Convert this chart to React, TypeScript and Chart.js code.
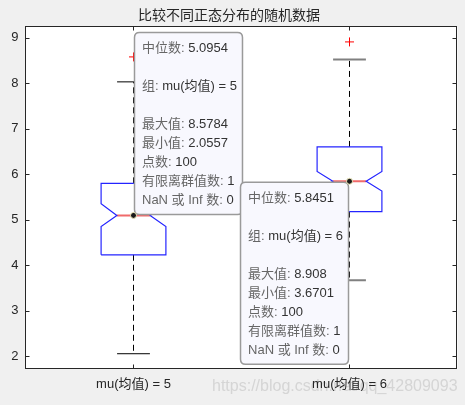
import React, { useEffect, useRef } from 'react';
import { Chart, registerables } from 'chart.js';

Chart.register(...registerables);

const chartTitle = '比较不同正态分布的随机数据';
const groups = ['mu(均值) = 5', 'mu(均值) = 6'];
const medians = [5.0954, 5.8451];
const q1Values = [4.23, 5.18];
const q3Values = [5.8, 6.6];
const notchLow = [4.85, 5.63];
const notchHigh = [5.35, 6.06];
const lowerWhiskers = [2.0557, 3.6701];
const upperWhiskers = [8.03, 8.52];
const outliers = [8.5784, 8.908];
const maxValues = [8.5784, 8.908];
const minValues = [2.0557, 3.6701];
const pointCounts = [100, 100];
const outlierCounts = [1, 1];
const nanCounts = [0, 0];
const yTicks = [2, 3, 4, 5, 6, 7, 8, 9];

const BOX_HALF = 0.15;
const NOTCH_HALF = 0.077;
const CAP_HALF = 0.076;
const AXIS_COLOR = '#262626';
const FONT = '"Liberation Sans", Arial, "Noto Sans CJK SC", sans-serif';

function buildDatasets() {
    const sets: any[] = [];
    groups.forEach((_, i) => {
        const x = i + 1;
        const box = [
            { x: x - BOX_HALF, y: q1Values[i] },
            { x: x - BOX_HALF, y: notchLow[i] },
            { x: x - NOTCH_HALF, y: medians[i] },
            { x: x - BOX_HALF, y: notchHigh[i] },
            { x: x - BOX_HALF, y: q3Values[i] },
            { x: x + BOX_HALF, y: q3Values[i] },
            { x: x + BOX_HALF, y: notchHigh[i] },
            { x: x + NOTCH_HALF, y: medians[i] },
            { x: x + BOX_HALF, y: notchLow[i] },
            { x: x + BOX_HALF, y: q1Values[i] },
            { x: x - BOX_HALF, y: q1Values[i] }
        ];
        const capColor = i === 0 ? '#000000' : '#808080';
        const capWidth = i === 0 ? 1 : 2;
        sets.push({ data: box, borderColor: '#2424ff', borderWidth: 1.2 });
        sets.push({
            data: [{ x: x - NOTCH_HALF, y: medians[i] }, { x: x + NOTCH_HALF, y: medians[i] }],
            borderColor: '#f06a6a', borderWidth: 2
        });
        sets.push({
            data: [{ x, y: q3Values[i] }, { x, y: upperWhiskers[i] }],
            borderColor: '#000000', borderWidth: 1, borderDash: [6, 4]
        });
        sets.push({
            data: [{ x, y: q1Values[i] }, { x, y: lowerWhiskers[i] }],
            borderColor: '#000000', borderWidth: 1, borderDash: [6, 4]
        });
        sets.push({
            data: [{ x: x - CAP_HALF, y: upperWhiskers[i] }, { x: x + CAP_HALF, y: upperWhiskers[i] }],
            borderColor: capColor, borderWidth: capWidth
        });
        sets.push({
            data: [{ x: x - CAP_HALF, y: lowerWhiskers[i] }, { x: x + CAP_HALF, y: lowerWhiskers[i] }],
            borderColor: capColor, borderWidth: capWidth
        });
        sets.push({
            data: [{ x, y: outliers[i] }],
            showLine: false,
            pointStyle: 'cross',
            pointRadius: 4.5,
            borderColor: '#ff0000',
            pointBorderColor: '#ff0000',
            pointBorderWidth: 1
        });
    });
    return sets.map(s => ({ showLine: true, pointRadius: 0, fill: false, ...s }));
}

function tipLines(i: number): [string, string][] {
    return [
        ['中位数: ', String(medians[i])],
        ['', ''],
        ['组: ', groups[i]],
        ['', ''],
        ['最大值: ', String(maxValues[i])],
        ['最小值: ', String(minValues[i])],
        ['点数: ', String(pointCounts[i])],
        ['有限离群值数: ', String(outlierCounts[i])],
        ['NaN 或 Inf 数: ', String(nanCounts[i])]
    ];
}

function roundRect(ctx: CanvasRenderingContext2D, x: number, y: number, w: number, h: number, r: number) {
    ctx.beginPath();
    ctx.moveTo(x + r, y);
    ctx.lineTo(x + w - r, y);
    ctx.quadraticCurveTo(x + w, y, x + w, y + r);
    ctx.lineTo(x + w, y + h - r);
    ctx.quadraticCurveTo(x + w, y + h, x + w - r, y + h);
    ctx.lineTo(x + r, y + h);
    ctx.quadraticCurveTo(x, y + h, x, y + h - r);
    ctx.lineTo(x, y + r);
    ctx.quadraticCurveTo(x, y, x + r, y);
    ctx.closePath();
}

const matlabLook = {
    id: 'matlabLook',
    beforeDraw(chart: any) {
        const { ctx, chartArea } = chart;
        ctx.save();
        ctx.fillStyle = '#ffffff';
        ctx.fillRect(chartArea.left, chartArea.top, chartArea.right - chartArea.left, chartArea.bottom - chartArea.top);
        // watermark
        ctx.font = `16px ${FONT}`;
        ctx.fillStyle = 'rgba(210, 210, 210, 0.9)';
        ctx.textAlign = 'left';
        ctx.textBaseline = 'middle';
        ctx.fillText('https://blog.csdn.net/qq_42809093', 212, 387);
        ctx.restore();
    },
    afterDatasetsDraw(chart: any) {
        const { ctx, chartArea, scales } = chart;
        const left = Math.floor(chartArea.left);
        const top = Math.floor(chartArea.top);
        const right = Math.floor(chartArea.right);
        const bottom = Math.floor(chartArea.bottom);
        ctx.save();
        ctx.strokeStyle = AXIS_COLOR;
        ctx.lineWidth = 1;
        ctx.strokeRect(left + 0.5, top + 0.5, right - left - 1, bottom - top - 1);

        // inward ticks
        ctx.beginPath();
        yTicks.forEach(v => {
            const py = Math.round(scales.y.getPixelForValue(v)) + 0.5;
            ctx.moveTo(left, py);
            ctx.lineTo(left + 4.5, py);
            ctx.moveTo(right, py);
            ctx.lineTo(right - 4.5, py);
        });
        groups.forEach((_, i) => {
            const px = Math.floor(scales.x.getPixelForValue(i + 1)) + 0.5;
            ctx.moveTo(px, bottom);
            ctx.lineTo(px, bottom - 4.5);
            ctx.moveTo(px, top);
            ctx.lineTo(px, top + 4.5);
        });
        ctx.stroke();

        // data tips
        ctx.font = `13px ${FONT}`;
        ctx.textBaseline = 'middle';
        ctx.textAlign = 'left';
        groups.forEach((_, i) => {
            const px = scales.x.getPixelForValue(i + 1);
            const py = scales.y.getPixelForValue(medians[i]);
            const lines = tipLines(i);
            const textW = Math.max(...lines.map(([a, b]) => ctx.measureText(a + b).width));
            const w = textW + 13;
            const h = 182;
            const bx = i === 0 ? px + 1 : px - 1 - w;
            const by = i === 0 ? py - 1 - h : py + 1;
            roundRect(ctx, bx, by, w, h, 5);
            ctx.fillStyle = '#f8f8fe';
            ctx.fill();
            ctx.strokeStyle = '#9a9a9a';
            ctx.lineWidth = 1.5;
            ctx.stroke();
            lines.forEach(([label, value], k) => {
                const ty = by + 16 + k * 19;
                ctx.fillStyle = '#666666';
                ctx.fillText(label, bx + 7.5, ty);
                const lw = ctx.measureText(label).width;
                ctx.fillStyle = '#333333';
                ctx.fillText(value, bx + 7.5 + lw, ty);
            });
            // datatip marker
            ctx.beginPath();
            ctx.arc(px, py, 3, 0, Math.PI * 2);
            ctx.fillStyle = '#1a1a1a';
            ctx.fill();
            ctx.strokeStyle = '#f4f0c0';
            ctx.lineWidth = 1;
            ctx.stroke();
        });
        ctx.restore();
    }
};

export default function App() {
    const canvasRef = useRef<HTMLCanvasElement>(null);
    const chartRef = useRef<Chart | null>(null);

    useEffect(() => {
        if (!canvasRef.current) return;
        if (chartRef.current) chartRef.current.destroy();
        Chart.defaults.font.family = FONT;

        chartRef.current = new Chart(canvasRef.current, {
            type: 'scatter',
            data: { datasets: buildDatasets() },
            plugins: [matlabLook],
            options: {
                animation: false,
                responsive: true,
                maintainAspectRatio: false,
                events: [],
                layout: { padding: { left: 0.5, right: 7.5, top: 0, bottom: 0 } },
                plugins: {
                    legend: { display: false },
                    tooltip: { enabled: false },
                    title: {
                        display: true,
                        text: chartTitle,
                        color: '#262626',
                        font: { size: 14, weight: 'normal', family: '"Noto Sans CJK SC", sans-serif' },
                        padding: { top: 6, bottom: 4 }
                    }
                },
                scales: {
                    x: {
                        type: 'linear',
                        min: 0.5,
                        max: 2.5,
                        afterBuildTicks: (axis: any) => {
                            axis.ticks = groups.map((_, i) => ({ value: i + 1 }));
                        },
                        afterFit: (axis: any) => {
                            axis.height = 36;
                        },
                        grid: { display: false, drawTicks: false },
                        border: { display: false },
                        ticks: {
                            callback: (_v: any, index: number) => groups[index],
                            autoSkip: false,
                            maxRotation: 0,
                            padding: 8,
                            color: AXIS_COLOR,
                            font: { size: 13 }
                        }
                    },
                    y: {
                        min: 1.72,
                        max: 9.24,
                        afterBuildTicks: (axis: any) => {
                            axis.ticks = yTicks.map(v => ({ value: v }));
                        },
                        afterFit: (axis: any) => {
                            axis.width = 25;
                        },
                        grid: { display: false, drawTicks: false },
                        border: { display: false },
                        ticks: {
                            padding: 7,
                            color: AXIS_COLOR,
                            font: { size: 13 }
                        }
                    }
                }
            } as any
        });

        return () => {
            if (chartRef.current) {
                chartRef.current.destroy();
                chartRef.current = null;
            }
        };
    }, []);

    return (
        <div style={{ position: 'fixed', left: 0, top: 0, width: 465, height: 405, background: '#f0f0f0' }}>
            <canvas ref={canvasRef} />
        </div>
    );
}
